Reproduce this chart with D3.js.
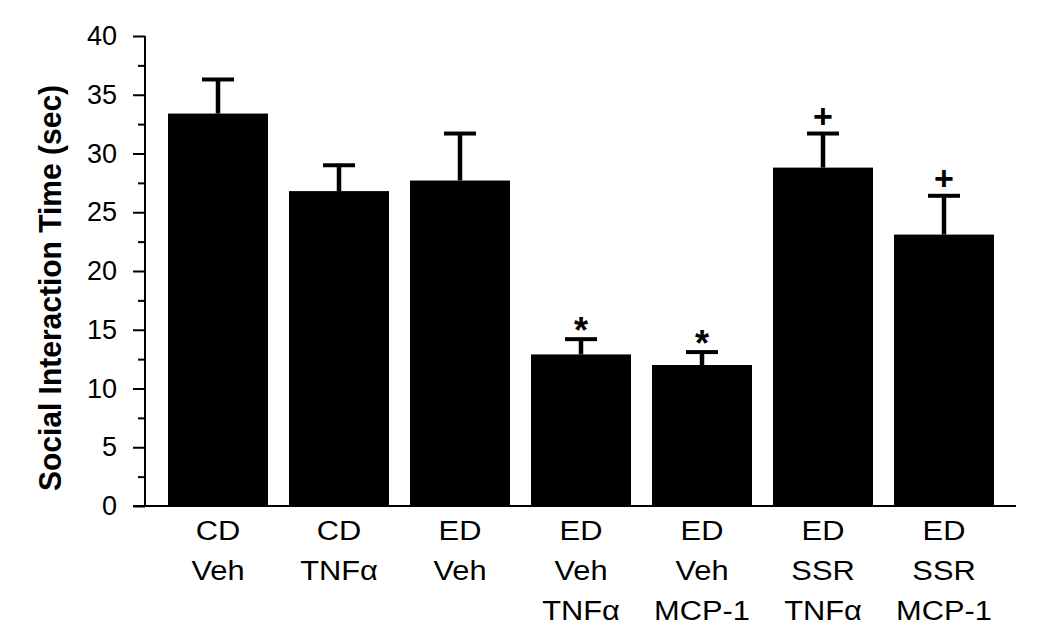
<!DOCTYPE html>
<html><head><meta charset="utf-8">
<script src="https://cdn.jsdelivr.net/npm/d3@7"></script>
<style>body{margin:0;background:#fff}svg{display:block}</style>
</head><body>
<script>
const categories = [["CD","Veh"],["CD","TNFα"],["ED","Veh"],["ED","Veh","TNFα"],["ED","Veh","MCP-1"],["ED","SSR","TNFα"],["ED","SSR","MCP-1"]];
const means = [33.4, 26.8, 27.7, 12.9, 12.0, 28.8, 23.1];
const upperErr = [36.3, 29.0, 31.7, 14.2, 13.1, 31.7, 26.4];
const marks = ["", "", "", "*", "*", "+", "+"];
const yTicks = [0,5,10,15,20,25,30,35,40];
const yMinorTicks = [2.5,7.5,12.5,17.5,22.5,27.5,32.5,37.5];

const W = 1050, H = 635;
const svg = d3.select("body").append("svg").attr("width", W).attr("height", H);
const font = "Liberation Sans, Arial, Helvetica, sans-serif";

const y = d3.scaleLinear().domain([0, 40]).range([506, 36]);
const x = d3.scaleBand().domain(d3.range(categories.length)).range([157.5, 1004.5])
  .paddingInner(0.1736).paddingOuter(0.0868);

const axisX = 145;
// y axis
const yAxis = d3.axisLeft(y).tickValues(yTicks).tickSize(12).tickPadding(16).tickFormat(d3.format("d"));
const gy = svg.append("g").attr("transform", `translate(${axisX},0)`).call(yAxis);
gy.select(".domain").attr("stroke", "#000").attr("stroke-width", 2).attr("d", `M0,${y(40)}V${y(0)}`);
gy.selectAll(".tick line").attr("stroke", "#000").attr("stroke-width", 2);
gy.selectAll(".tick text").attr("font-family", font).attr("font-size", 27).attr("fill", "#000");
const gyMinor = svg.append("g").attr("transform", `translate(${axisX},0)`)
  .call(d3.axisLeft(y).tickValues(yMinorTicks).tickSize(7).tickFormat(""));
gyMinor.select(".domain").remove();
gyMinor.selectAll(".tick line").attr("stroke", "#000").attr("stroke-width", 2);

// x baseline
svg.append("line").attr("x1", 133).attr("x2", 1016).attr("y1", y(0)).attr("y2", y(0))
  .attr("stroke", "#000").attr("stroke-width", 2);

// bars
svg.selectAll("rect.bar").data(means).join("rect").attr("class", "bar")
  .attr("x", (d, i) => x(i)).attr("width", x.bandwidth())
  .attr("y", d => y(d)).attr("height", d => y(0) - y(d)).attr("fill", "#000");

// error bars
const capW = 32;
svg.selectAll("line.stem").data(means).join("line").attr("class", "stem")
  .attr("x1", (d, i) => x(i) + x.bandwidth() / 2).attr("x2", (d, i) => x(i) + x.bandwidth() / 2)
  .attr("y1", d => y(d)).attr("y2", (d, i) => y(upperErr[i]))
  .attr("stroke", "#000").attr("stroke-width", 4.5);
svg.selectAll("line.cap").data(upperErr).join("line").attr("class", "cap")
  .attr("x1", (d, i) => x(i) + x.bandwidth() / 2 - capW / 2).attr("x2", (d, i) => x(i) + x.bandwidth() / 2 + capW / 2)
  .attr("y1", d => y(d)).attr("y2", d => y(d))
  .attr("stroke", "#000").attr("stroke-width", 4);

// significance marks
svg.selectAll("text.mark").data(marks).join("text").attr("class", "mark")
  .attr("x", (d, i) => x(i) + x.bandwidth() / 2)
  .attr("y", (d, i) => y(upperErr[i]) + (d === "*" ? 4 : -6))
  .attr("text-anchor", "middle").attr("font-family", font).attr("font-weight", "bold")
  .attr("font-size", d => d === "*" ? 36 : 34).attr("fill", "#000")
  .text(d => d);

// category labels (slightly wide lettering as in the reference)
const lbl = svg.selectAll("text.cat").data(categories).join("text").attr("class", "cat")
  .attr("transform", (d, i) => `translate(${x(i) + x.bandwidth() / 2},0) scale(1.1,1)`)
  .attr("text-anchor", "middle").attr("font-family", font).attr("font-size", 28).attr("fill", "#000");
lbl.selectAll("tspan").data(d => d).join("tspan")
  .attr("x", 0)
  .attr("y", (d, j) => 540 + j * 40)
  .text(d => d);

// y label
svg.append("text").attr("transform", `translate(61,288) rotate(-90) scale(1,1.05)`)
  .attr("text-anchor", "middle").attr("font-family", font).attr("font-weight", "bold")
  .attr("font-size", 30).attr("fill", "#000").text("Social Interaction Time (sec)");
</script>
</body></html>
